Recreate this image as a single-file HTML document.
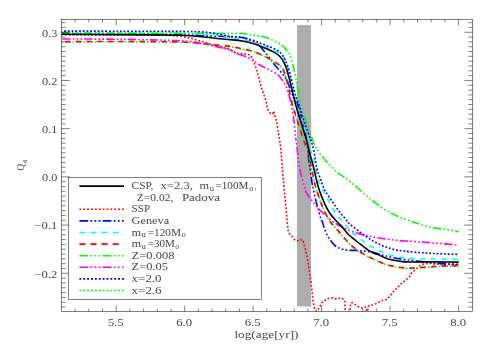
<!DOCTYPE html>
<html><head><meta charset="utf-8"><title>Qd vs log(age)</title>
<style>html,body{margin:0;padding:0;background:#fff;}svg{display:block;font-family:"Liberation Serif",serif;}</style></head><body>
<svg width="491" height="350" viewBox="0 0 491 350">
<rect x="0" y="0" width="491" height="350" fill="#ffffff"/>
<rect x="297" y="25.1" width="14" height="281.4" fill="#adadad"/>
<defs><clipPath id="cp"><rect x="61.50" y="19.50" width="411.00" height="292.00"/></clipPath></defs>
<g clip-path="url(#cp)" fill="none" stroke-width="1.60" stroke-linejoin="round">
<path id="c_ssp_0" d="M61.50 34.80 L120.00 35.00 L160.00 35.20 L171.00 35.50 L181.00 36.30 L191.30 38.30 L201.50 41.40 L211.60 44.40 L219.80 46.50 L230.00 49.40 L236.10 53.30 L242.20 53.90 L247.10 54.30 L250.20 54.90 L252.00 58.00 L253.80 62.20 L255.50 66.50 L257.30 71.80 L259.80 81.60 L262.20 90.10 L265.30 98.70 L266.50 103.00 L267.20 107.30 L268.40 111.00 L270.50 113.50 L272.50 114.20 L273.80 111.20 L274.60 115.00 L275.70 118.30 L276.90 123.20 L277.80 129.30 L278.80 135.50 L279.80 141.00 L281.20 152.00 L282.20 166.30 L284.30 190.70 L285.50 202.40 L286.40 212.20 L287.20 222.00 L288.20 230.60 L289.40 233.60 L292.50 236.70 L294.90 239.90 L297.30 240.80 L299.80 239.60 L302.80 239.90 L304.10 244.20 L305.30 249.10 L306.50 254.00 L307.70 260.10 L308.60 266.20 L309.80 273.20 L311.00 281.80 L312.00 290.30 L312.80 298.90 L313.70 305.00 L314.70 308.70 L316.50 311.40 L318.90 308.10 L320.80 305.00 L322.00 302.60 L324.40 300.70 L327.50 298.90 L330.60 298.00 L333.00 297.90 L335.50 298.90 L337.90 298.70 L340.30 297.90 L342.80 298.90 L344.60 300.10 L345.00 303.80 L345.00 308.10 L345.10 314.00 L350.20 314.00 L350.30 307.50 L350.90 303.20 L352.00 302.60 L355.00 304.40 L358.60 306.80 L362.20 308.10 L365.50 306.90 L366.60 311.30 L367.60 311.30 L368.40 306.30 L369.60 305.60 L374.40 304.40 L379.30 302.00 L383.00 300.10 L386.70 299.50 L389.10 297.10 L391.60 294.00 L394.00 290.90 L396.50 288.50 L398.90 286.10 L401.30 283.60 L405.00 280.60 L407.50 278.70 L409.90 276.30 L411.10 273.60 L413.60 271.10 L417.20 268.10 L420.90 265.00 L423.30 264.00 L427.00 263.60 L431.90 263.40 L436.00 264.40 L441.00 263.80 L446.00 264.80 L451.00 264.00 L455.00 264.80 L458.80 264.50" stroke="#ff0000" stroke-dasharray="1.824 1.891"/>
<path id="c_geneva_0" d="M61.50 33.80 C71.25 33.83 100.08 33.83 120.00 34.00 C139.92 34.17 167.42 34.53 181.00 34.80 C194.58 35.07 195.03 35.35 201.50 35.60 C207.97 35.85 215.05 36.10 219.80 36.30 C224.55 36.50 226.27 36.60 230.00 36.80" stroke="#0000ff" stroke-dasharray="8.352 2.208 1.728 2.208 1.728 2.208 1.728 2.208"/>
<path id="c_geneva_1" d="M230.00 36.80 C233.73 37.00 239.15 37.03 242.20 37.50 C245.25 37.97 246.27 38.83 248.30 39.60 C250.33 40.37 252.57 41.08 254.40 42.10 C256.23 43.12 257.87 44.38 259.30 45.70 C260.73 47.02 261.77 48.57 263.00 50.00 C264.23 51.43 265.48 52.87 266.70 54.30 C267.92 55.73 269.12 57.02 270.30 58.60 C271.48 60.18 272.50 62.12 273.80 63.80 C275.10 65.48 276.77 67.17 278.10 68.70 C279.43 70.23 280.57 71.47 281.80 73.00 C283.03 74.53 284.48 76.37 285.50 77.90 C286.52 79.43 287.20 80.57 287.90 82.20 C288.60 83.83 288.88 85.57 289.70 87.70 C290.52 89.83 291.48 92.28 292.80 95.00 C294.12 97.72 296.30 100.83 297.60 104.00 C298.90 107.17 299.60 110.33 300.60 114.00" stroke="#0000ff" stroke-dasharray="8.352 2.208 1.728 2.208 1.728 2.208 1.728 2.208" stroke-dashoffset="13.34"/>
<path id="c_geneva_2" d="M300.60 114.00 C301.60 117.67 302.70 122.17 303.60 126.00 C304.50 129.83 305.33 133.50 306.00 137.00 C306.67 140.50 307.18 143.50 307.60 147.00 C308.02 150.50 308.17 154.85 308.50 158.00 C308.83 161.15 309.12 162.55 309.60 165.90 C310.08 169.25 310.90 174.63 311.40 178.10 C311.90 181.57 312.32 185.05 312.60 186.70 C312.88 188.35 312.72 186.35 313.10 188.00 C313.48 189.65 314.18 193.55 314.90 196.60 C315.62 199.65 316.48 202.85 317.40 206.30 C318.32 209.75 319.57 214.68 320.40 217.30 C321.23 219.92 321.75 220.20 322.40 222.00 C323.05 223.80 323.48 225.87 324.30 228.10 C325.12 230.33 326.18 233.27 327.30 235.40 C328.42 237.53 329.67 239.17 331.00 240.90 C332.33 242.63 333.87 244.57 335.30 245.80 C336.73 247.03 337.87 247.62 339.60 248.30 C341.33 248.98 343.87 249.55 345.70 249.90 C347.53 250.25 348.77 250.32 350.60 250.40 C352.43 250.48 354.67 250.30 356.70 250.40 C358.73 250.50 360.77 250.80 362.80 251.00 C364.83 251.20 366.87 251.30 368.90 251.60 C370.93 251.90 373.17 252.33 375.00 252.80 C376.83 253.27 378.07 253.87 379.90 254.40 C381.73 254.93 383.25 255.35 386.00 256.00 C388.75 256.65 392.73 257.63 396.40 258.30 C400.07 258.97 403.92 259.47 408.00 260.00 C412.08 260.53 417.07 261.07 420.90 261.50 C424.73 261.93 427.63 262.25 431.00 262.60 C434.37 262.95 436.47 263.32 441.10 263.60 C445.73 263.88 455.85 264.18 458.80 264.30" stroke="#0000ff" stroke-dasharray="8.352 2.208 1.728 2.208 1.728 2.208 1.728 2.208" stroke-dashoffset="3.43"/>
<path id="c_mu120_0" d="M61.50 32.90 C71.25 32.93 100.08 32.98 120.00 33.10 C139.92 33.22 167.42 33.42 181.00 33.60 C194.58 33.78 195.03 33.87 201.50 34.20 C207.97 34.53 215.05 35.10 219.80 35.60 C224.55 36.10 226.67 36.63 230.00 37.20 C233.33 37.77 236.47 38.28 239.80 39.00 C243.13 39.72 246.63 40.57 250.00 41.50 C253.37 42.43 256.62 43.48 260.00 44.60 C263.38 45.72 267.47 47.05 270.30 48.20 C273.13 49.35 275.17 50.48 277.00 51.50 C278.83 52.52 280.17 53.30 281.30 54.30 C282.43 55.30 283.08 56.28 283.80 57.50 C284.52 58.72 284.90 59.68 285.60 61.60 C286.30 63.52 287.22 66.28 288.00 69.00 C288.78 71.72 289.50 74.78 290.30 77.90 C291.10 81.02 291.97 84.27 292.80 87.70 C293.63 91.13 294.38 94.82 295.30 98.50 C296.22 102.18 297.28 106.28 298.30 109.80 C299.32 113.32 300.37 116.35 301.40 119.60 C302.43 122.85 303.47 126.05 304.50 129.30 C305.53 132.55 306.60 135.65 307.60 139.10 C308.60 142.55 309.57 146.68 310.50 150.00 C311.43 153.32 312.37 155.95 313.20 159.00 C314.03 162.05 314.62 164.80 315.50 168.30 C316.38 171.80 317.42 176.63 318.50 180.00 C319.58 183.37 320.65 185.73 322.00 188.50 C323.35 191.27 325.02 193.63 326.60 196.60 C328.18 199.57 329.67 203.05 331.50 206.30 C333.33 209.55 335.45 213.18 337.60 216.10 C339.75 219.02 342.23 221.38 344.40 223.80 C346.57 226.22 348.55 228.55 350.60 230.60 C352.65 232.65 354.67 234.38 356.70 236.10 C358.73 237.82 360.77 239.38 362.80 240.90 C364.83 242.42 366.87 243.97 368.90 245.20 C370.93 246.43 373.47 247.48 375.00 248.30 C376.53 249.12 376.57 249.35 378.10 250.10 C379.63 250.85 382.17 251.98 384.20 252.80 C386.23 253.62 388.27 254.40 390.30 255.00 C392.33 255.60 394.35 255.95 396.40 256.40 C398.45 256.85 400.55 257.38 402.60 257.70 C404.65 258.02 405.65 258.13 408.70 258.30 C411.75 258.47 417.03 258.60 420.90 258.70 C424.77 258.80 427.88 258.83 431.90 258.90 C435.92 258.97 440.52 259.05 445.00 259.10 C449.48 259.15 456.50 259.18 458.80 259.20" stroke="#00ffff" stroke-dasharray="5.184 5.472" stroke-dashoffset="8.49"/>
<path id="c_x26_0" d="M61.50 42.00 C71.25 41.97 100.08 41.75 120.00 41.80 C139.92 41.85 167.42 41.98 181.00 42.30 C194.58 42.62 195.03 43.12 201.50 43.70 C207.97 44.28 215.05 45.32 219.80 45.80 C224.55 46.28 226.27 46.05 230.00 46.60 C233.73 47.15 238.13 48.18 242.20 49.10 C246.27 50.02 250.32 50.68 254.40 52.10 C258.48 53.52 263.63 56.07 266.70 57.60 C269.77 59.13 270.77 60.07 272.80 61.30 C274.83 62.53 277.27 63.78 278.90 65.00 C280.53 66.22 281.58 67.05 282.60 68.60 C283.62 70.15 284.27 72.17 285.00 74.30 C285.73 76.43 286.35 78.87 287.00 81.40 C287.65 83.93 288.03 85.73 288.90 89.50 C289.77 93.27 291.23 100.17 292.20 104.00 C293.17 107.83 293.88 109.75 294.70 112.50 C295.52 115.25 296.18 117.65 297.10 120.50 C298.02 123.35 299.18 126.45 300.20 129.60 C301.22 132.75 302.23 136.53 303.20 139.40 C304.17 142.27 305.15 144.58 306.00 146.80 C306.85 149.02 307.60 150.08 308.30 152.70 C309.00 155.32 309.48 159.03 310.20 162.50 C310.92 165.97 311.90 170.23 312.60 173.50 C313.30 176.77 313.80 179.43 314.40 182.10 C315.00 184.77 315.40 186.83 316.20 189.50 C317.00 192.17 318.18 195.25 319.20 198.10 C320.22 200.95 321.07 203.65 322.30 206.60 C323.53 209.55 325.25 213.18 326.60 215.80 C327.95 218.42 328.85 220.20 330.40 222.30 C331.95 224.40 333.97 226.17 335.90 228.40 C337.83 230.63 339.97 233.35 342.00 235.70 C344.03 238.05 346.07 240.45 348.10 242.50 C350.13 244.55 352.17 246.37 354.20 248.00 C356.23 249.63 358.25 250.98 360.30 252.30 C362.35 253.62 364.55 254.85 366.50 255.90 C368.45 256.95 370.07 257.65 372.00 258.60 C373.93 259.55 376.07 260.68 378.10 261.60 C380.13 262.52 382.17 263.38 384.20 264.10 C386.23 264.82 388.27 265.40 390.30 265.90 C392.33 266.40 394.35 266.75 396.40 267.10 C398.45 267.45 400.55 267.78 402.60 268.00 C404.65 268.22 406.67 268.37 408.70 268.40 C410.73 268.43 412.77 268.30 414.80 268.20 C416.83 268.10 418.05 268.00 420.90 267.80 C423.75 267.60 427.93 267.27 431.90 267.00 C435.87 266.73 440.22 266.35 444.70 266.20 C449.18 266.05 456.45 266.12 458.80 266.10" stroke="#00ff00" stroke-dasharray="1.824 1.891"/>
<path id="c_mu30_0" d="M61.50 41.70 C71.25 41.67 100.08 41.45 120.00 41.50 C139.92 41.55 167.42 41.68 181.00 42.00 C194.58 42.32 195.03 42.82 201.50 43.40 C207.97 43.98 215.05 45.02 219.80 45.50 C224.55 45.98 226.27 45.75 230.00 46.30 C233.73 46.85 238.13 47.88 242.20 48.80 C246.27 49.72 250.32 50.38 254.40 51.80 C258.48 53.22 263.63 55.77 266.70 57.30 C269.77 58.83 270.77 59.77 272.80 61.00 C274.83 62.23 277.27 63.48 278.90 64.70 C280.53 65.92 281.58 66.75 282.60 68.30 C283.62 69.85 284.27 71.87 285.00 74.00 C285.73 76.13 286.35 78.57 287.00 81.10 C287.65 83.63 288.03 85.43 288.90 89.20 C289.77 92.97 291.23 99.87 292.20 103.70 C293.17 107.53 293.88 109.45 294.70 112.20 C295.52 114.95 296.18 117.35 297.10 120.20 C298.02 123.05 299.18 126.15 300.20 129.30 C301.22 132.45 302.23 136.23 303.20 139.10 C304.17 141.97 305.15 144.28 306.00 146.50 C306.85 148.72 307.60 149.78 308.30 152.40 C309.00 155.02 309.48 158.73 310.20 162.20 C310.92 165.67 311.90 169.93 312.60 173.20 C313.30 176.47 313.80 179.13 314.40 181.80 C315.00 184.47 315.40 186.53 316.20 189.20 C317.00 191.87 318.18 194.95 319.20 197.80 C320.22 200.65 321.07 203.35 322.30 206.30 C323.53 209.25 325.25 212.88 326.60 215.50 C327.95 218.12 328.85 219.90 330.40 222.00 C331.95 224.10 333.97 225.87 335.90 228.10 C337.83 230.33 339.97 233.05 342.00 235.40 C344.03 237.75 346.07 240.15 348.10 242.20 C350.13 244.25 352.17 246.07 354.20 247.70 C356.23 249.33 358.25 250.68 360.30 252.00 C362.35 253.32 364.55 254.55 366.50 255.60 C368.45 256.65 370.07 257.35 372.00 258.30 C373.93 259.25 376.07 260.38 378.10 261.30 C380.13 262.22 382.17 263.08 384.20 263.80 C386.23 264.52 388.27 265.10 390.30 265.60 C392.33 266.10 394.35 266.45 396.40 266.80 C398.45 267.15 400.55 267.48 402.60 267.70 C404.65 267.92 406.67 268.07 408.70 268.10 C410.73 268.13 412.77 268.00 414.80 267.90 C416.83 267.80 418.05 267.70 420.90 267.50 C423.75 267.30 427.93 266.97 431.90 266.70 C435.87 266.43 440.22 266.05 444.70 265.90 C449.18 265.75 456.45 265.82 458.80 265.80" stroke="#ff0000" stroke-dasharray="5.184 5.472" stroke-dashoffset="6.81"/>
<path id="c_z008_0" d="M61.50 32.90 C71.25 32.92 100.08 32.95 120.00 33.00 C139.92 33.05 164.37 33.13 181.00 33.20 C197.63 33.27 210.82 33.35 219.80 33.40" stroke="#00ff00" stroke-dasharray="8.352 2.208 1.728 2.208 1.728 2.208 1.728 2.208"/>
<path id="c_z008_1" d="M219.80 33.40 C228.78 33.45 230.75 33.43 234.90 33.50 C239.05 33.57 241.45 33.50 244.70 33.80 C247.95 34.10 251.15 34.80 254.40 35.30 C257.65 35.80 261.13 35.98 264.20 36.80 C267.27 37.62 270.35 39.12 272.80 40.20 C275.25 41.28 277.07 42.18 278.90 43.30 C280.73 44.42 282.37 45.58 283.80 46.90 C285.23 48.22 286.48 49.87 287.50 51.20 C288.52 52.53 289.12 53.10 289.90 54.90 C290.68 56.70 291.52 59.60 292.20 62.00 C292.88 64.40 293.40 66.65 294.00 69.30 C294.60 71.95 295.28 75.25 295.80 77.90 C296.32 80.55 296.58 82.55 297.10 85.20 C297.62 87.85 298.35 91.17 298.90 93.80 C299.45 96.43 299.88 98.75 300.40 101.00" stroke="#00ff00" stroke-dasharray="8.352 2.208 1.728 2.208 1.728 2.208 1.728 2.208" stroke-dashoffset="3.14"/>
<path id="c_z008_2" d="M300.40 101.00 C300.92 103.25 301.32 104.82 302.00 107.30 C302.68 109.78 303.68 113.05 304.50 115.90 C305.32 118.75 305.98 121.55 306.90 124.40 C307.82 127.25 308.98 130.23 310.00 133.00 C311.02 135.77 312.00 138.58 313.00 141.00 C314.00 143.42 315.05 145.70 316.00 147.50 C316.95 149.30 317.12 149.65 318.70 151.80 C320.28 153.95 323.15 157.65 325.50 160.40 C327.85 163.15 330.38 165.97 332.80 168.30 C335.22 170.63 337.45 172.43 340.00 174.40 C342.55 176.37 345.38 178.05 348.10 180.10 C350.82 182.15 353.58 184.38 356.30 186.70 C359.02 189.02 361.68 191.70 364.40 194.00 C367.12 196.30 369.88 198.33 372.60 200.50 C375.32 202.67 377.98 205.10 380.70 207.00 C383.42 208.90 386.18 210.40 388.90 211.90 C391.62 213.40 394.30 214.78 397.00 216.00 C399.70 217.22 402.38 218.20 405.10 219.20 C407.82 220.20 410.85 221.18 413.30 222.00 C415.75 222.82 417.03 223.23 419.80 224.10 C422.57 224.97 425.75 226.32 429.90 227.20 C434.05 228.08 439.88 228.65 444.70 229.40 C449.52 230.15 456.45 231.32 458.80 231.70" stroke="#00ff00" stroke-dasharray="8.352 2.208 1.728 2.208 1.728 2.208 1.728 2.208" stroke-dashoffset="7.16"/>
<path id="c_z05_0" d="M61.50 39.00 C71.25 39.05 100.08 39.00 120.00 39.30 C139.92 39.60 167.42 40.12 181.00 40.80 C194.58 41.48 195.03 42.28 201.50 43.40 C207.97 44.52 215.05 46.40 219.80 47.50 C224.55 48.60 227.08 48.97 230.00 50.00" stroke="#ff00ff" stroke-dasharray="8.143 2.153 1.685 2.153 1.685 2.153 1.685 2.153" stroke-dashoffset="20.72"/>
<path id="c_z05_1" d="M230.00 50.00 C232.92 51.03 234.65 52.58 237.30 53.70 C239.95 54.82 243.12 55.48 245.90 56.70 C248.68 57.92 251.88 59.72 254.00 61.00 C256.12 62.28 256.82 63.32 258.60 64.40 C260.38 65.48 262.47 66.37 264.70 67.50 C266.93 68.63 269.77 69.98 272.00 71.20 C274.23 72.42 276.37 73.28 278.10 74.80 C279.83 76.32 281.17 78.57 282.40 80.30 C283.63 82.03 284.58 83.37 285.50 85.20 C286.42 87.03 287.20 89.25 287.90 91.30 C288.60 93.35 289.25 95.80 289.70 97.50 C290.15 99.20 290.28 100.07 290.60 101.50 C290.92 102.93 291.23 104.32 291.60 106.10 C291.97 107.88 292.45 110.17 292.80 112.20 C293.15 114.23 293.43 116.27 293.70 118.30 C293.97 120.33 294.18 122.15 294.40 124.40 C294.62 126.65 294.75 129.35 295.00 131.80 C295.25 134.25 295.52 136.07 295.90 139.10" stroke="#ff00ff" stroke-dasharray="8.352 2.208 1.728 2.208 1.728 2.208 1.728 2.208" stroke-dashoffset="13.24"/>
<path id="c_z05_2" d="M295.90 139.10 C296.28 142.13 296.85 146.15 297.30 150.00 C297.75 153.85 297.98 158.13 298.60 162.20 C299.22 166.27 300.08 170.52 301.00 174.40 C301.92 178.28 303.28 182.63 304.10 185.50 C304.92 188.37 304.80 189.35 305.90 191.60 C307.00 193.85 309.08 196.75 310.70 199.00 C312.32 201.25 313.98 203.17 315.60 205.10 C317.22 207.03 318.57 208.77 320.40 210.60 C322.23 212.43 324.55 214.27 326.60 216.10 C328.65 217.93 330.87 220.17 332.70 221.60 C334.53 223.03 336.25 223.92 337.60 224.70 C338.95 225.48 339.05 225.43 340.80 226.30 C342.55 227.17 345.45 228.78 348.10 229.90 C350.75 231.02 353.85 232.12 356.70 233.00 C359.55 233.88 362.55 234.58 365.20 235.20 C367.85 235.82 369.43 236.12 372.60 236.70 C375.77 237.28 380.23 238.10 384.20 238.70 C388.17 239.30 392.32 239.88 396.40 240.30 C400.48 240.72 404.62 240.92 408.70 241.20 C412.78 241.48 417.03 241.73 420.90 242.00 C424.77 242.27 427.88 242.48 431.90 242.80 C435.92 243.12 440.52 243.53 445.00 243.90 C449.48 244.27 456.50 244.82 458.80 245.00" stroke="#ff00ff" stroke-dasharray="8.352 2.208 1.728 2.208 1.728 2.208 1.728 2.208" stroke-dashoffset="14.61"/>
<path id="c_x20_0" d="M61.50 31.10 C71.25 31.12 100.08 31.15 120.00 31.20 C139.92 31.25 167.67 31.30 181.00 31.40 C194.33 31.50 194.33 31.47 200.00 31.80 C205.67 32.13 210.00 32.65 215.00 33.40 C220.00 34.15 225.47 35.67 230.00 36.30 C234.53 36.93 239.15 36.75 242.20 37.20 C245.25 37.65 246.27 38.40 248.30 39.00 C250.33 39.60 252.35 40.08 254.40 40.80 C256.45 41.52 258.55 42.48 260.60 43.30 C262.65 44.12 264.67 44.88 266.70 45.70 C268.73 46.52 270.77 47.28 272.80 48.20 C274.83 49.12 277.27 49.98 278.90 51.20 C280.53 52.42 281.48 53.87 282.60 55.50 C283.72 57.13 284.68 59.07 285.60 61.00 C286.52 62.93 287.32 64.77 288.10 67.10 C288.88 69.43 289.57 72.18 290.30 75.00 C291.03 77.82 291.63 80.67 292.50 84.00 C293.37 87.33 294.38 91.42 295.50 95.00 C296.62 98.58 297.98 101.83 299.20 105.50 C300.42 109.17 301.58 113.25 302.80 117.00 C304.02 120.75 305.22 124.33 306.50 128.00 C307.78 131.67 309.30 135.33 310.50 139.00 C311.70 142.67 312.63 145.12 313.70 150.00 C314.77 154.88 315.77 163.47 316.90 168.30 C318.03 173.13 319.28 175.55 320.50 179.00 C321.72 182.45 322.87 186.17 324.20 189.00 C325.53 191.83 326.88 193.52 328.50 196.00 C330.12 198.48 331.98 201.17 333.90 203.90 C335.82 206.63 337.97 209.75 340.00 212.40 C342.03 215.05 344.65 218.00 346.10 219.80 C347.55 221.60 347.35 221.92 348.70 223.20 C350.05 224.48 352.27 225.97 354.20 227.50 C356.13 229.03 358.25 230.87 360.30 232.40 C362.35 233.93 364.55 235.37 366.50 236.70 C368.45 238.03 370.07 239.25 372.00 240.40 C373.93 241.55 376.07 242.60 378.10 243.60 C380.13 244.60 382.17 245.58 384.20 246.40 C386.23 247.22 388.27 247.88 390.30 248.50 C392.33 249.12 394.35 249.70 396.40 250.10 C398.45 250.50 400.55 250.65 402.60 250.90 C404.65 251.15 405.65 251.32 408.70 251.60 C411.75 251.88 417.03 252.30 420.90 252.60 C424.77 252.90 427.88 253.17 431.90 253.40 C435.92 253.63 440.52 253.83 445.00 254.00 C449.48 254.17 456.50 254.33 458.80 254.40" stroke="#0000ff" stroke-dasharray="1.824 1.891" stroke-dashoffset="0.94"/>
<path id="c_black_0" d="M61.50 34.30 C71.25 34.35 103.58 34.50 120.00 34.60 C136.42 34.70 149.83 34.78 160.00 34.90 C170.17 35.02 174.08 35.00 181.00 35.30 C187.92 35.60 195.03 36.13 201.50 36.70 C207.97 37.27 215.05 38.22 219.80 38.70 C224.55 39.18 226.27 39.22 230.00 39.60 C233.73 39.98 238.13 40.27 242.20 41.00 C246.27 41.73 250.32 42.70 254.40 44.00 C258.48 45.30 263.23 47.32 266.70 48.80 C270.17 50.28 272.97 51.58 275.20 52.90 C277.43 54.22 278.67 55.15 280.10 56.70 C281.53 58.25 282.70 60.10 283.80 62.20 C284.90 64.30 285.82 66.68 286.70 69.30 C287.58 71.92 288.28 74.83 289.10 77.90 C289.92 80.97 290.77 84.27 291.60 87.70 C292.43 91.13 293.18 94.82 294.10 98.50 C295.02 102.18 296.08 106.28 297.10 109.80 C298.12 113.32 299.18 116.35 300.20 119.60 C301.22 122.85 302.18 126.05 303.20 129.30 C304.22 132.55 305.35 135.65 306.30 139.10 C307.25 142.55 308.07 146.68 308.90 150.00 C309.73 153.32 310.48 155.95 311.30 159.00 C312.12 162.05 312.93 164.80 313.80 168.30 C314.67 171.80 315.70 176.72 316.50 180.00 C317.30 183.28 317.73 185.23 318.60 188.00 C319.47 190.77 320.58 193.75 321.70 196.60 C322.82 199.45 323.88 202.25 325.30 205.10 C326.72 207.95 328.37 211.05 330.20 213.70 C332.03 216.35 334.13 218.60 336.30 221.00 C338.47 223.40 341.23 225.90 343.20 228.10 C345.17 230.30 346.05 232.17 348.10 234.20 C350.15 236.23 353.25 238.47 355.50 240.30 C357.75 242.13 359.37 243.47 361.60 245.20 C363.83 246.93 366.67 249.27 368.90 250.70 C371.13 252.13 373.47 253.15 375.00 253.80 C376.53 254.45 376.57 254.00 378.10 254.60 C379.63 255.20 382.17 256.58 384.20 257.40 C386.23 258.22 388.27 258.95 390.30 259.50 C392.33 260.05 394.35 260.35 396.40 260.70 C398.45 261.05 400.55 261.38 402.60 261.60 C404.65 261.82 405.65 261.93 408.70 262.00 C411.75 262.07 417.03 262.03 420.90 262.00 C424.77 261.97 427.88 261.80 431.90 261.80 C435.92 261.80 440.52 261.95 445.00 262.00 C449.48 262.05 456.50 262.08 458.80 262.10" stroke="#000000"/>
</g>
<g stroke="#000" stroke-width="0.50" fill="none">
<rect x="61.50" y="19.50" width="411.00" height="292.00"/>
<path d="M75.10 311.50 v-2.90 M75.10 19.50 v2.90 M88.79 311.50 v-2.90 M88.79 19.50 v2.90 M102.49 311.50 v-2.90 M102.49 19.50 v2.90 M116.18 311.50 v-5.80 M116.18 19.50 v5.80 M129.88 311.50 v-2.90 M129.88 19.50 v2.90 M143.57 311.50 v-2.90 M143.57 19.50 v2.90 M157.27 311.50 v-2.90 M157.27 19.50 v2.90 M170.96 311.50 v-2.90 M170.96 19.50 v2.90 M184.66 311.50 v-5.80 M184.66 19.50 v5.80 M198.35 311.50 v-2.90 M198.35 19.50 v2.90 M212.05 311.50 v-2.90 M212.05 19.50 v2.90 M225.74 311.50 v-2.90 M225.74 19.50 v2.90 M239.44 311.50 v-2.90 M239.44 19.50 v2.90 M253.13 311.50 v-5.80 M253.13 19.50 v5.80 M266.82 311.50 v-2.90 M266.82 19.50 v2.90 M280.52 311.50 v-2.90 M280.52 19.50 v2.90 M294.21 311.50 v-2.90 M294.21 19.50 v2.90 M307.91 311.50 v-2.90 M307.91 19.50 v2.90 M321.61 311.50 v-5.80 M321.61 19.50 v5.80 M335.30 311.50 v-2.90 M335.30 19.50 v2.90 M349.00 311.50 v-2.90 M349.00 19.50 v2.90 M362.69 311.50 v-2.90 M362.69 19.50 v2.90 M376.39 311.50 v-2.90 M376.39 19.50 v2.90 M390.08 311.50 v-5.80 M390.08 19.50 v5.80 M403.77 311.50 v-2.90 M403.77 19.50 v2.90 M417.47 311.50 v-2.90 M417.47 19.50 v2.90 M431.16 311.50 v-2.90 M431.16 19.50 v2.90 M444.86 311.50 v-2.90 M444.86 19.50 v2.90 M458.56 311.50 v-5.80 M458.56 19.50 v5.80"/>
<path d="M61.50 307.05 h4.10 M472.50 307.05 h-4.10 M61.50 302.23 h4.10 M472.50 302.23 h-4.10 M61.50 297.41 h4.10 M472.50 297.41 h-4.10 M61.50 292.58 h4.10 M472.50 292.58 h-4.10 M61.50 287.76 h4.10 M472.50 287.76 h-4.10 M61.50 282.94 h4.10 M472.50 282.94 h-4.10 M61.50 278.12 h4.10 M472.50 278.12 h-4.10 M61.50 273.30 h8.20 M472.50 273.30 h-8.20 M61.50 268.48 h4.10 M472.50 268.48 h-4.10 M61.50 263.66 h4.10 M472.50 263.66 h-4.10 M61.50 258.84 h4.10 M472.50 258.84 h-4.10 M61.50 254.02 h4.10 M472.50 254.02 h-4.10 M61.50 249.19 h4.10 M472.50 249.19 h-4.10 M61.50 244.37 h4.10 M472.50 244.37 h-4.10 M61.50 239.55 h4.10 M472.50 239.55 h-4.10 M61.50 234.73 h4.10 M472.50 234.73 h-4.10 M61.50 229.91 h4.10 M472.50 229.91 h-4.10 M61.50 225.09 h8.20 M472.50 225.09 h-8.20 M61.50 220.27 h4.10 M472.50 220.27 h-4.10 M61.50 215.45 h4.10 M472.50 215.45 h-4.10 M61.50 210.63 h4.10 M472.50 210.63 h-4.10 M61.50 205.81 h4.10 M472.50 205.81 h-4.10 M61.50 200.98 h4.10 M472.50 200.98 h-4.10 M61.50 196.16 h4.10 M472.50 196.16 h-4.10 M61.50 191.34 h4.10 M472.50 191.34 h-4.10 M61.50 186.52 h4.10 M472.50 186.52 h-4.10 M61.50 181.70 h4.10 M472.50 181.70 h-4.10 M61.50 176.88 h8.20 M472.50 176.88 h-8.20 M61.50 172.06 h4.10 M472.50 172.06 h-4.10 M61.50 167.24 h4.10 M472.50 167.24 h-4.10 M61.50 162.42 h4.10 M472.50 162.42 h-4.10 M61.50 157.60 h4.10 M472.50 157.60 h-4.10 M61.50 152.78 h4.10 M472.50 152.78 h-4.10 M61.50 147.95 h4.10 M472.50 147.95 h-4.10 M61.50 143.13 h4.10 M472.50 143.13 h-4.10 M61.50 138.31 h4.10 M472.50 138.31 h-4.10 M61.50 133.49 h4.10 M472.50 133.49 h-4.10 M61.50 128.67 h8.20 M472.50 128.67 h-8.20 M61.50 123.85 h4.10 M472.50 123.85 h-4.10 M61.50 119.03 h4.10 M472.50 119.03 h-4.10 M61.50 114.21 h4.10 M472.50 114.21 h-4.10 M61.50 109.39 h4.10 M472.50 109.39 h-4.10 M61.50 104.56 h4.10 M472.50 104.56 h-4.10 M61.50 99.74 h4.10 M472.50 99.74 h-4.10 M61.50 94.92 h4.10 M472.50 94.92 h-4.10 M61.50 90.10 h4.10 M472.50 90.10 h-4.10 M61.50 85.28 h4.10 M472.50 85.28 h-4.10 M61.50 80.46 h8.20 M472.50 80.46 h-8.20 M61.50 75.64 h4.10 M472.50 75.64 h-4.10 M61.50 70.82 h4.10 M472.50 70.82 h-4.10 M61.50 66.00 h4.10 M472.50 66.00 h-4.10 M61.50 61.18 h4.10 M472.50 61.18 h-4.10 M61.50 56.35 h4.10 M472.50 56.35 h-4.10 M61.50 51.53 h4.10 M472.50 51.53 h-4.10 M61.50 46.71 h4.10 M472.50 46.71 h-4.10 M61.50 41.89 h4.10 M472.50 41.89 h-4.10 M61.50 37.07 h4.10 M472.50 37.07 h-4.10 M61.50 32.25 h8.20 M472.50 32.25 h-8.20 M61.50 27.43 h4.10 M472.50 27.43 h-4.10 M61.50 22.61 h4.10 M472.50 22.61 h-4.10"/>
</g>
<g style="filter:grayscale(1)">
<text x="42.10" y="36.55" font-size="10.30" text-anchor="start" fill="#454545" textLength="15.30" lengthAdjust="spacingAndGlyphs">0.3</text>
<text x="42.10" y="84.76" font-size="10.30" text-anchor="start" fill="#454545" textLength="15.30" lengthAdjust="spacingAndGlyphs">0.2</text>
<text x="42.10" y="132.97" font-size="10.30" text-anchor="start" fill="#454545" textLength="15.30" lengthAdjust="spacingAndGlyphs">0.1</text>
<text x="42.10" y="181.18" font-size="10.30" text-anchor="start" fill="#454545" textLength="15.30" lengthAdjust="spacingAndGlyphs">0.0</text>
<text x="34.50" y="229.39" font-size="10.30" text-anchor="start" fill="#454545" textLength="22.90" lengthAdjust="spacingAndGlyphs">−0.1</text>
<text x="34.50" y="277.60" font-size="10.30" text-anchor="start" fill="#454545" textLength="22.90" lengthAdjust="spacingAndGlyphs">−0.2</text>
<text x="107.78" y="325.80" font-size="10.30" text-anchor="start" fill="#454545" textLength="15.90" lengthAdjust="spacingAndGlyphs">5.5</text>
<text x="176.26" y="325.80" font-size="10.30" text-anchor="start" fill="#454545" textLength="15.90" lengthAdjust="spacingAndGlyphs">6.0</text>
<text x="244.73" y="325.80" font-size="10.30" text-anchor="start" fill="#454545" textLength="15.90" lengthAdjust="spacingAndGlyphs">6.5</text>
<text x="313.21" y="325.80" font-size="10.30" text-anchor="start" fill="#454545" textLength="15.90" lengthAdjust="spacingAndGlyphs">7.0</text>
<text x="381.68" y="325.80" font-size="10.30" text-anchor="start" fill="#454545" textLength="15.90" lengthAdjust="spacingAndGlyphs">7.5</text>
<text x="450.16" y="325.80" font-size="10.30" text-anchor="start" fill="#454545" textLength="15.90" lengthAdjust="spacingAndGlyphs">8.0</text>
<text x="234.40" y="338.40" font-size="10.80" text-anchor="start" fill="#454545" textLength="64.10" lengthAdjust="spacingAndGlyphs">log(age[yr])</text>
<g transform="translate(24.2,170.6) rotate(-90)">
<text x="0.00" y="0.00" font-size="10.30" text-anchor="start" fill="#454545" textLength="6.60" lengthAdjust="spacingAndGlyphs">Q</text>
<text x="7.00" y="2.60" font-size="6.40" text-anchor="start" fill="#454545" textLength="3.40" lengthAdjust="spacingAndGlyphs">d</text>
</g>
</g>
<rect x="68.5" y="177.3" width="192.8" height="122.0" fill="#ffffff" stroke="#000" stroke-width="0.50"/>
<g fill="none" stroke-width="1.60">
<path d="M79.40 186.10 H123.90" stroke="#000000"/>
<path d="M79.40 209.30 H123.90" stroke="#ff0000" stroke-dasharray="1.9 1.97"/>
<path d="M79.40 220.90 H123.90" stroke="#0000ff" stroke-dasharray="8.7 2.3 1.8 2.3 1.8 2.3 1.8 2.3"/>
<path d="M79.40 232.50 H123.90" stroke="#00ffff" stroke-dasharray="6.1 5"/>
<path d="M79.40 244.10 H123.90" stroke="#ff0000" stroke-dasharray="6.1 5"/>
<path d="M79.40 255.70 H123.90" stroke="#00ff00" stroke-dasharray="8.7 2.3 1.8 2.3 1.8 2.3 1.8 2.3"/>
<path d="M79.40 267.30 H123.90" stroke="#ff00ff" stroke-dasharray="8.7 2.3 1.8 2.3 1.8 2.3 1.8 2.3"/>
<path d="M79.40 278.90 H123.90" stroke="#0000ff" stroke-dasharray="1.9 1.97"/>
<path d="M79.40 290.50 H123.90" stroke="#00ff00" stroke-dasharray="1.9 1.97"/>
</g>
<g style="filter:grayscale(1)">
<text x="131.60" y="189.10" font-size="10.30" text-anchor="start" fill="#454545" textLength="21.80" lengthAdjust="spacingAndGlyphs">CSP,</text>
<text x="160.50" y="189.10" font-size="10.30" text-anchor="start" fill="#454545" textLength="32.40" lengthAdjust="spacingAndGlyphs">x=2.3,</text>
<text x="199.50" y="189.10" font-size="10.30" text-anchor="start" fill="#454545" textLength="9.60" lengthAdjust="spacingAndGlyphs">m</text>
<text x="209.70" y="191.00" font-size="7.40" text-anchor="start" fill="#454545" textLength="4.30" lengthAdjust="spacingAndGlyphs">u</text>
<text x="215.50" y="189.10" font-size="10.30" text-anchor="start" fill="#454545" textLength="32.90" lengthAdjust="spacingAndGlyphs">=100M</text>
<text x="249.30" y="191.00" font-size="7.40" text-anchor="start" fill="#454545" textLength="4.20" lengthAdjust="spacingAndGlyphs">o</text>
<text x="254.70" y="189.10" font-size="10.30" text-anchor="start" fill="#454545" textLength="1.90" lengthAdjust="spacingAndGlyphs">,</text>
<text x="136.80" y="200.71" font-size="10.30" text-anchor="start" fill="#454545" textLength="36.60" lengthAdjust="spacingAndGlyphs">Z=0.02,</text>
<text x="181.90" y="200.71" font-size="10.30" text-anchor="start" fill="#454545" textLength="38.20" lengthAdjust="spacingAndGlyphs">Padova</text>
<text x="131.60" y="212.32" font-size="10.30" text-anchor="start" fill="#454545" textLength="18.50" lengthAdjust="spacingAndGlyphs">SSP</text>
<text x="131.60" y="223.93" font-size="10.30" text-anchor="start" fill="#454545" textLength="37.50" lengthAdjust="spacingAndGlyphs">Geneva</text>
<text x="131.60" y="235.54" font-size="10.30" text-anchor="start" fill="#454545" textLength="9.60" lengthAdjust="spacingAndGlyphs">m</text>
<text x="141.60" y="237.44" font-size="7.40" text-anchor="start" fill="#454545" textLength="4.30" lengthAdjust="spacingAndGlyphs">u</text>
<text x="147.70" y="235.54" font-size="10.30" text-anchor="start" fill="#454545" textLength="33.40" lengthAdjust="spacingAndGlyphs">=120M</text>
<text x="181.70" y="237.44" font-size="7.40" text-anchor="start" fill="#454545" textLength="4.00" lengthAdjust="spacingAndGlyphs">o</text>
<text x="131.60" y="247.15" font-size="10.30" text-anchor="start" fill="#454545" textLength="9.60" lengthAdjust="spacingAndGlyphs">m</text>
<text x="141.60" y="249.05" font-size="7.40" text-anchor="start" fill="#454545" textLength="4.30" lengthAdjust="spacingAndGlyphs">u</text>
<text x="147.70" y="247.15" font-size="10.30" text-anchor="start" fill="#454545" textLength="27.20" lengthAdjust="spacingAndGlyphs">=30M</text>
<text x="175.30" y="249.05" font-size="7.40" text-anchor="start" fill="#454545" textLength="3.90" lengthAdjust="spacingAndGlyphs">o</text>
<text x="131.60" y="258.76" font-size="10.30" text-anchor="start" fill="#454545" textLength="42.80" lengthAdjust="spacingAndGlyphs">Z=0.008</text>
<text x="131.60" y="270.37" font-size="10.30" text-anchor="start" fill="#454545" textLength="36.40" lengthAdjust="spacingAndGlyphs">Z=0.05</text>
<text x="131.60" y="281.98" font-size="10.30" text-anchor="start" fill="#454545" textLength="30.00" lengthAdjust="spacingAndGlyphs">x=2.0</text>
<text x="131.60" y="293.59" font-size="10.30" text-anchor="start" fill="#454545" textLength="30.00" lengthAdjust="spacingAndGlyphs">x=2.6</text>
</g>
</svg></body></html>
